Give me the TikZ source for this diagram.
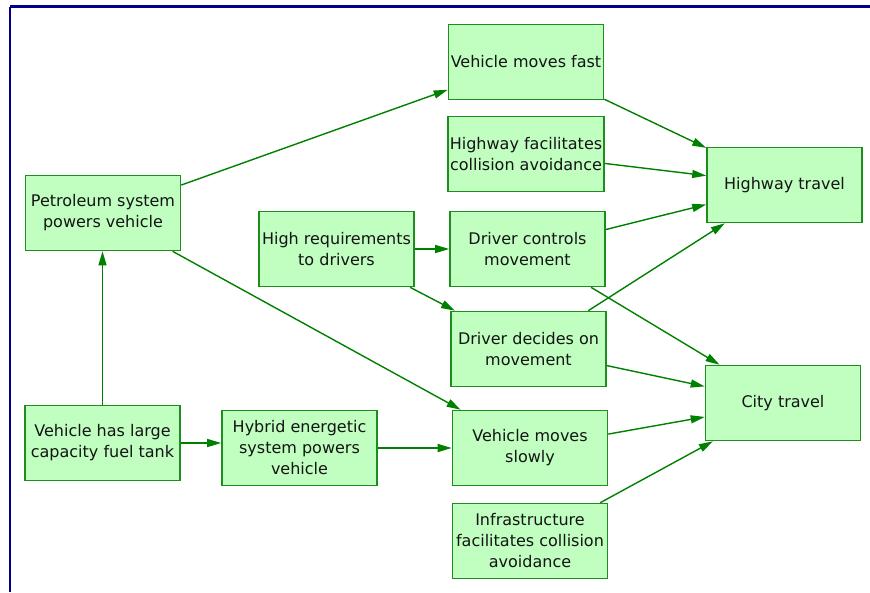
\documentclass[tikz,border=0pt]{standalone}
\usepackage{fontspec}
\setmainfont{DejaVu Sans}
\usetikzlibrary{arrows.meta}
\definecolor{boxfill}{RGB}{192,255,192}
\definecolor{boxline}{RGB}{30,140,30}
\definecolor{linkcol}{RGB}{0,128,0}
\definecolor{framecol}{RGB}{0,0,140}
\definecolor{txtcol}{RGB}{20,20,20}
\begin{document}
\begin{tikzpicture}[x=1pt,y=-1pt,
  factor/.style={draw=boxline, fill=boxfill, line width=1.6pt,
    minimum width=155pt, minimum height=75pt, inner sep=2pt,
    align=center, text=txtcol,
    font=\fontsize{16}{21}\selectfont},
  link/.style={draw=linkcol, line width=1.4pt,
    -{Triangle[length=14pt,width=8pt]}}]
\useasboundingbox (0,0) rectangle (870,592);
% frame edges
\draw[framecol, line width=2.2pt] (10,6.5) -- (870,6.5);
\draw[framecol, line width=2.2pt] (10,6.5) -- (10,592);

% factors
\node[factor] (fast)   at (526,62)    {Vehicle moves fast};
\node[factor] (hwcol)  at (526,154)   {Highway facilitates\\collision avoidance};
\node[factor] (hwtrav) at (784.5,185) {Highway travel};
\node[factor] (petrol) at (103,213)   {Petroleum system\\powers vehicle};
\node[factor] (highreq) at (336.5,249) {High requirements\\to drivers};
\node[factor] (dctrl)  at (527.5,249) {Driver controls\\movement};
\node[factor] (ddec)   at (528.5,349) {Driver decides on\\movement};
\node[factor] (city)   at (783,403)   {City travel};
\node[factor] (tank)   at (102.5,443) {Vehicle has large\\capacity fuel tank};
\node[factor] (hybrid) at (299.5,448) {Hybrid energetic\\system powers\\vehicle};
\node[factor] (slow)   at (530,448)   {Vehicle moves\\slowly};
\node[factor] (infra)  at (530,541)   {Infrastructure\\facilitates collision\\avoidance};

% influences
\draw[link] (petrol) -- (fast);
\draw[link] (petrol) -- (slow);
\draw[link] (tank) -- (tank |- petrol.south);
\draw[link] (tank.east) -- (tank.east -| hybrid.west);
\draw[link] (hybrid) -- (slow);
\draw[link] (highreq) -- (dctrl);
\draw[link] (highreq) -- (ddec);
\draw[link] (fast) -- (hwtrav);
\draw[link] (hwcol) -- (hwtrav);
\draw[link] (dctrl) -- (hwtrav);
\draw[link] (ddec) -- (hwtrav);
\draw[link] (dctrl) -- (city);
\draw[link] (ddec) -- (city);
\draw[link] (slow) -- (city);
\draw[link] (infra) -- (city);
\end{tikzpicture}
\end{document}
